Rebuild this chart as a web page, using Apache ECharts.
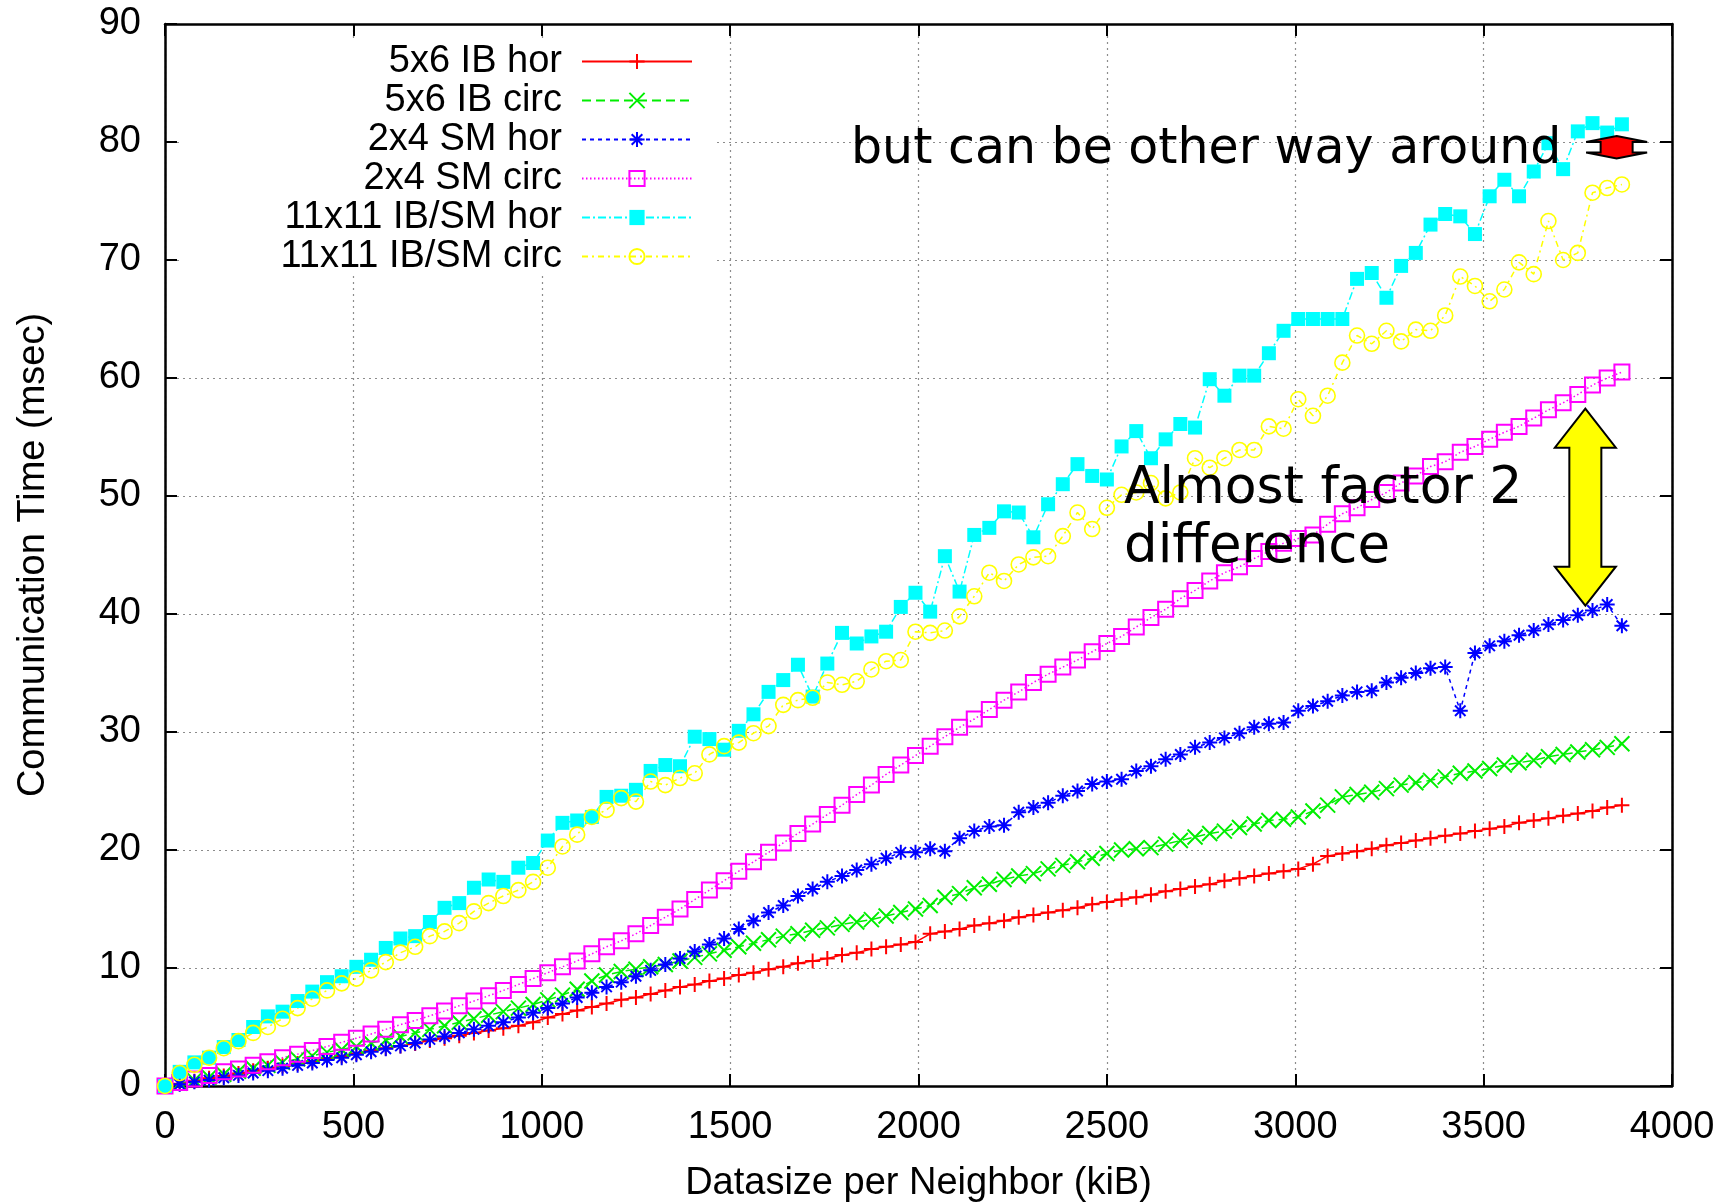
<!DOCTYPE html>
<html>
<head>
<meta charset="utf-8" />
<title>Communication Time</title>
<script src="https://cdn.jsdelivr.net/npm/echarts@6.0.0/dist/echarts.min.js"></script>
<style>
    html, body { margin: 0; padding: 0; background: #fff; }
    #main { width: 1728px; height: 1204px; }
</style>
</head>
<body>
<div id="main"></div>
<script type="text/javascript">
// data size per neighbor (kiB)
var sizes = [
    0, 39, 78, 117, 156, 195, 234, 273, 312, 352,
    391, 430, 469, 508, 547, 586, 625, 664, 703, 742,
    781, 820, 859, 898, 938, 977, 1016, 1055, 1094, 1133,
    1172, 1211, 1250, 1289, 1328, 1367, 1406, 1445, 1484, 1523,
    1562, 1602, 1641, 1680, 1719, 1758, 1797, 1836, 1875, 1914,
    1953, 1992, 2031, 2070, 2109, 2148, 2188, 2227, 2266, 2305,
    2344, 2383, 2422, 2461, 2500, 2539, 2578, 2617, 2656, 2695,
    2734, 2773, 2812, 2852, 2891, 2930, 2969, 3008, 3047, 3086,
    3125, 3164, 3203, 3242, 3281, 3320, 3359, 3398, 3438, 3477,
    3516, 3555, 3594, 3633, 3672, 3711, 3750, 3789, 3828, 3867
];

var ibHor = [
    0, 0.2, 0.4, 0.65, 0.85, 1.05, 1.3, 1.5, 1.7, 1.9,
    2.1, 2.35, 2.55, 2.75, 3.0, 3.2, 3.4, 3.6, 3.85, 4.05,
    4.25, 4.5, 4.7, 4.9, 5.1, 5.4, 5.8, 6.1, 6.4, 6.7,
    7.0, 7.3, 7.5, 7.8, 8.1, 8.4, 8.6, 8.9, 9.1, 9.4,
    9.6, 9.9, 10.1, 10.4, 10.6, 10.8, 11.1, 11.3, 11.6, 11.8,
    12.0, 12.2, 12.9, 13.1, 13.3, 13.6, 13.8, 14.0, 14.3, 14.5,
    14.7, 14.9, 15.1, 15.4, 15.6, 15.8, 16.0, 16.2, 16.5, 16.7,
    16.9, 17.1, 17.4, 17.6, 17.8, 18.0, 18.2, 18.4, 18.8, 19.5,
    19.7, 19.9, 20.1, 20.4, 20.6, 20.8, 21.0, 21.2, 21.4, 21.6,
    21.8, 22.0, 22.3, 22.5, 22.7, 22.9, 23.1, 23.3, 23.6, 23.8
];

var ibCirc = [
    0, 0.25, 0.5, 0.75, 1.0, 1.25, 1.5, 1.75, 2.0, 2.3,
    2.55, 2.85, 3.1, 3.35, 3.65, 3.9, 4.2, 4.5, 4.8, 5.1,
    5.4, 5.7, 6.0, 6.3, 6.6, 6.9, 7.3, 7.7, 8.2, 8.9,
    9.4, 9.7, 9.9, 10.1, 10.3, 10.6, 10.9, 11.2, 11.5, 11.8,
    12.1, 12.4, 12.7, 12.9, 13.2, 13.4, 13.7, 13.9, 14.1, 14.4,
    14.7, 15.0, 15.3, 16.0, 16.3, 16.8, 17.1, 17.5, 17.8, 18.0,
    18.4, 18.7, 19.0, 19.3, 19.7, 20.0, 20.1, 20.2, 20.5, 20.8,
    21.1, 21.4, 21.6, 21.9, 22.2, 22.5, 22.6, 22.8, 23.3, 23.8,
    24.5, 24.7, 24.9, 25.2, 25.5, 25.7, 25.9, 26.2, 26.5, 26.7,
    26.9, 27.2, 27.4, 27.6, 27.9, 28.1, 28.3, 28.5, 28.7, 29.0
];

var smHor = [
    0, 0.15, 0.35, 0.5, 0.7, 0.9, 1.1, 1.3, 1.5, 1.75,
    1.95, 2.2, 2.4, 2.65, 2.9, 3.15, 3.4, 3.65, 3.95, 4.2,
    4.5, 4.8, 5.1, 5.4, 5.8, 6.2, 6.6, 7.0, 7.5, 7.9,
    8.4, 8.8, 9.3, 9.8, 10.3, 10.8, 11.4, 12.0, 12.5, 13.3,
    14.0, 14.7, 15.3, 16.1, 16.7, 17.3, 17.8, 18.3, 18.8, 19.3,
    19.8, 19.8, 20.1, 19.9, 21.0, 21.6, 22.0, 22.1, 23.2, 23.6,
    24.0, 24.6, 25.0, 25.6, 25.8, 26.0, 26.7, 27.1, 27.7, 28.1,
    28.7, 29.1, 29.5, 29.9, 30.4, 30.7, 30.8, 31.8, 32.2, 32.6,
    33.1, 33.4, 33.5, 34.2, 34.6, 35.0, 35.4, 35.5, 31.8, 36.7,
    37.3, 37.7, 38.2, 38.6, 39.1, 39.5, 39.9, 40.3, 40.8, 39.0
];

var smCirc = [
    0, 0.3, 0.6, 0.9, 1.2, 1.45, 1.75, 2.05, 2.4, 2.7,
    3.0, 3.35, 3.7, 4.05, 4.4, 4.8, 5.2, 5.55, 5.95, 6.35,
    6.8, 7.2, 7.65, 8.1, 8.6, 9.1, 9.6, 10.1, 10.6, 11.2,
    11.8, 12.3, 12.9, 13.6, 14.3, 15.0, 15.8, 16.6, 17.4, 18.2,
    19.0, 19.8, 20.6, 21.4, 22.2, 23.0, 23.8, 24.7, 25.5, 26.4,
    27.2, 28.0, 28.8, 29.6, 30.4, 31.1, 31.9, 32.7, 33.4, 34.2,
    34.9, 35.5, 36.1, 36.8, 37.5, 38.1, 38.9, 39.7, 40.4, 41.3,
    42.0, 42.8, 43.5, 44.0, 44.7, 45.3, 46.0, 46.4, 46.7, 47.6,
    48.5, 49.0, 49.7, 50.3, 51.1, 51.7, 52.5, 52.9, 53.7, 54.2,
    54.8, 55.4, 55.9, 56.6, 57.3, 57.9, 58.6, 59.4, 60.0, 60.5
];

var mixHor = [
    0, 1.2, 2.0, 2.4, 3.3, 3.9, 5.0, 5.9, 6.3, 7.2,
    8.0, 8.8, 9.3, 10.1, 10.7, 11.7, 12.5, 12.7, 13.9, 15.1,
    15.5, 16.8, 17.5, 17.3, 18.5, 18.9, 20.8, 22.3, 22.5, 22.8,
    24.5, 24.6, 25.1, 26.7, 27.2, 27.1, 29.6, 29.4, 28.5, 30.1,
    31.5, 33.4, 34.4, 35.7, 33.0, 35.8, 38.4, 37.5, 38.1, 38.5,
    40.6, 41.8, 40.2, 44.9, 41.9, 46.7, 47.3, 48.7, 48.6, 46.5,
    49.3, 51.0, 52.7, 51.7, 51.4, 54.2, 55.5, 53.2, 54.8, 56.1,
    55.8, 59.9, 58.5, 60.2, 60.2, 62.1, 64.0, 65.0, 65.0, 65.0,
    65.0, 68.4, 68.9, 66.8, 69.5, 70.6, 73.0, 73.9, 73.7, 72.2,
    75.4, 76.8, 75.4, 77.5, 79.9, 77.7, 80.9, 81.6, 80.8, 81.5
];

var mixCirc = [
    0, 1.1, 1.8, 2.4, 3.2, 3.8, 4.5, 5.0, 5.7, 6.6,
    7.4, 8.1, 8.7, 9.1, 9.8, 10.5, 11.3, 11.8, 12.7, 13.1,
    13.8, 14.8, 15.5, 16.1, 16.6, 17.3, 18.5, 20.3, 21.3, 22.8,
    23.4, 24.4, 24.1, 25.8, 25.5, 26.1, 26.5, 28.1, 28.8, 29.1,
    29.9, 30.5, 32.3, 32.7, 32.9, 34.2, 34.0, 34.3, 35.3, 36.0,
    36.1, 38.5, 38.4, 38.6, 39.8, 41.5, 43.5, 42.8, 44.2, 44.8,
    44.9, 46.6, 48.6, 47.2, 49.0, 50.1, 50.3, 51.1, 49.8, 50.3,
    53.2, 52.4, 53.2, 53.9, 53.9, 55.9, 55.7, 58.2, 56.8, 58.5,
    61.3, 63.6, 62.9, 64.0, 63.1, 64.1, 64.0, 65.3, 68.6, 67.8,
    66.5, 67.5, 69.8, 68.8, 73.3, 70.0, 70.6, 75.7, 76.1, 76.4
];

var seriesNames = ['5x6 IB hor', '5x6 IB circ', '2x4 SM hor', '2x4 SM circ', '11x11 IB/SM hor', '11x11 IB/SM circ'];
var xRange = [0, 4000, 500];
var yRange = [0, 90, 10];

var font = '"Liberation Sans", Arial, Helvetica, sans-serif';
var handFont = '"Comic Sans MS", "DejaVu Sans", sans-serif';

function pairs(vals) {
    return vals.map(function (v, i) { return [sizes[i], v]; });
}

function line(name, vals, color, dash, symbol, size, filled, bw) {
    return {
        name: name,
        type: 'line',
        data: pairs(vals),
        symbol: symbol,
        symbolSize: size,
        lineStyle: { color: color, width: 1.5, type: dash },
        itemStyle: { color: filled ? color : 'transparent', borderColor: color, borderWidth: bw },
        emphasis: { disabled: true },
        clip: false
    };
}

var plus = 'path://M0,5L10,5M5,0L5,10';
var cross = 'path://M0,0L10,10M0,10L10,0';
var star = 'path://M0,5L10,5M5,0L5,10M1.5,1.5L8.5,8.5M1.5,8.5L8.5,1.5';

function axisBase(range, pos) {
    return {
        type: 'value',
        position: pos,
        min: range[0],
        max: range[1],
        interval: range[2],
        axisLine: { show: true, onZero: false, lineStyle: { color: '#000', width: 2.5 } },
        axisTick: { show: true, inside: true, length: 12, lineStyle: { color: '#000', width: 2 } },
        axisLabel: { show: false },
        splitLine: { show: false }
    };
}

function plain(v) { return String(v); }

var xMain = axisBase(xRange, 'bottom');
xMain.axisLabel = { show: true, fontSize: 38, color: '#000', fontFamily: font, margin: 23, formatter: plain };
xMain.splitLine = { show: true, lineStyle: { color: '#8c8c8c', width: 1.2, type: [2, 4] } };
xMain.name = 'Datasize per Neighbor (kiB)';
xMain.nameLocation = 'middle';
xMain.nameGap = 79;
xMain.nameMoveOverlap = false;
xMain.nameTextStyle = { fontSize: 38, color: '#000', fontFamily: font };

var yMain = axisBase(yRange, 'left');
yMain.axisLabel = { show: true, fontSize: 38, color: '#000', fontFamily: font, margin: 24, formatter: plain };
yMain.splitLine = { show: true, lineStyle: { color: '#8c8c8c', width: 1.2, type: [2, 4] } };
yMain.name = 'Communication Time (msec)';
yMain.nameLocation = 'middle';
yMain.nameGap = 112;
yMain.nameMoveOverlap = false;
yMain.nameTextStyle = { fontSize: 38, color: '#000', fontFamily: font };

var xTop = axisBase(xRange, 'top');
var yRight = axisBase(yRange, 'right');

var option = {
    animation: false,
    backgroundColor: '#fff',
    grid: { left: 165, top: 24, width: 1507, height: 1062, containLabel: false, outerBoundsMode: 'none' },
    xAxis: [xMain, xTop],
    yAxis: [yMain, yRight],
    legend: {
        data: seriesNames,
        orient: 'vertical',
        align: 'right',
        left: 180,
        top: 40,
        padding: [2, 24, 0, 52],
        itemWidth: 110,
        itemHeight: 19,
        itemGap: 0,
        backgroundColor: '#fff',
        selectedMode: false,
        textStyle: {
            fontSize: 38, color: '#000', fontFamily: font,
            width: 330, align: 'right', lineHeight: 39, padding: [0, 15, 0, 0]
        }
    },
    series: [
        line(seriesNames[0], ibHor, '#ff0000', 'solid', plus, 15, false, 2),
        line(seriesNames[1], ibCirc, '#00ee00', [9, 5], cross, 15, false, 2),
        line(seriesNames[2], smHor, '#0000ff', [4, 4], star, 15, false, 2),
        line(seriesNames[3], smCirc, '#ff00ff', [1.5, 2.5], 'rect', 15, false, 2),
        line(seriesNames[4], mixHor, '#00ffff', [8, 3, 2, 3], 'rect', 14, true, 0),
        line(seriesNames[5], mixCirc, '#ffff00', [6, 4, 2, 4], 'circle', 15, false, 1.6)
    ]
};

var chart = echarts.init(document.getElementById('main'));
chart.setOption(option);

// annotation arrows, anchored in data units
var yellowArrow = { x: 3770, top: 57.4, bottom: 40.7, head: 39, fill: '#ffff00' };
var redArrow = { x: 3853, top: 80.5, bottom: 78.6, head: 6, fill: '#ff0000' };

function arrow(a) {
    var p1 = chart.convertToPixel({ gridIndex: 0 }, [a.x, a.top]);
    var p2 = chart.convertToPixel({ gridIndex: 0 }, [a.x, a.bottom]);
    var cx = p1[0], t = p1[1], b = p2[1], h = a.head, hw = 30.5, sw = 16;
    return {
        type: 'polygon',
        z: 100,
        shape: {
            points: [
                [cx, t], [cx + hw, t + h], [cx + sw, t + h], [cx + sw, b - h], [cx + hw, b - h],
                [cx, b], [cx - hw, b - h], [cx - sw, b - h], [cx - sw, t + h], [cx - hw, t + h]
            ]
        },
        style: { fill: a.fill, stroke: '#000', lineWidth: 2 }
    };
}

function note(text, x, y, size) {
    return {
        type: 'text',
        z: 100,
        x: x,
        y: y,
        style: { text: text, fontSize: size, fontFamily: handFont, fill: '#000', align: 'left', verticalAlign: 'middle' }
    };
}

chart.setOption({
    graphic: [
        arrow(yellowArrow),
        arrow(redArrow),
        note('but can be other way around', 851, 150, 49),
        note('Almost factor 2', 1124, 489, 52),
        note('difference', 1124, 548, 53)
    ]
});
</script>
</body>
</html>
